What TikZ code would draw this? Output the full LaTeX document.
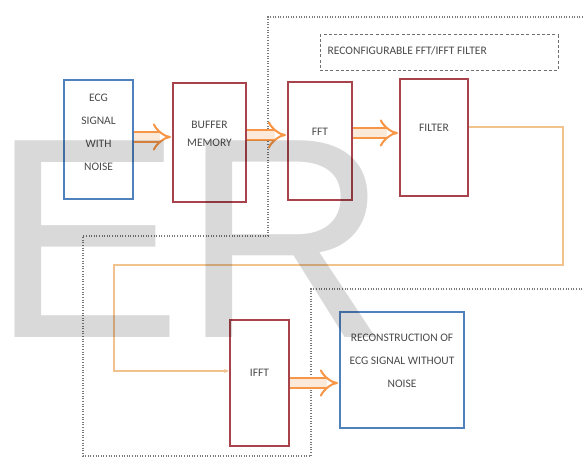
\documentclass[tikz,border=0pt]{standalone}
\usepackage{fontspec}
\setmainfont{Carlito}
\newfontfamily\wmfont{Liberation Sans}
\usetikzlibrary{arrows.meta}
\definecolor{boxblue}{HTML}{4F81BD}
\definecolor{boxred}{HTML}{A8434B}
\definecolor{arrorange}{HTML}{F79646}
\definecolor{arrinner}{HTML}{FBE9DA}
\definecolor{linetan}{HTML}{F2C28E}
\definecolor{txtgray}{HTML}{4A4A4A}
\definecolor{dotgray}{HTML}{7A7A7A}
\begin{document}
\begin{tikzpicture}[x=1pt,y=-1pt,
  bluebox/.style={draw=boxblue, line width=2pt, inner sep=0pt},
  redbox/.style={draw=boxred, line width=2pt, inner sep=0pt},
  lbl/.style={text=txtgray, font=\fontsize{11.5}{23}\selectfont, align=center, inner sep=0pt},
  dblarrow/.style={draw=arrorange, double=arrinner, double distance=7.5pt, line width=2pt, -{Implies}},
  thinline/.style={draw=linetan, line width=1.4pt},
  dotline/.style={draw=dotgray, line width=1.2pt, dash pattern=on 1pt off 1.6pt},
  dashbox/.style={draw=txtgray!80, line width=1pt, dash pattern=on 3pt off 2.2pt, inner sep=0pt}
]
\fill[white] (0,0) rectangle (583,460);
\useasboundingbox (0,0) rectangle (583,460);

% dotted region outline
\draw[dotline] (583,17) -- (268,17) -- (268,236) -- (83,236) -- (83,456) -- (311,456) -- (311,289) -- (583,289);

% dashed title box
\node[dashbox, minimum width=238pt, minimum height=35pt] (rc) at (439,52.5) {};
\node[lbl, anchor=west] (rct) at ([xshift=8pt,yshift=1.5pt]rc.west) {RECONFIGURABLE FFT/IFFT FILTER};

% boxes
\node[bluebox, minimum width=69pt, minimum height=119pt] (ecg) at (98.5,139.5) {};
\node[redbox, minimum width=73pt, minimum height=119pt] (buf) at (209.5,142.5) {};
\node[redbox, minimum width=64pt, minimum height=118pt] (fft) at (320,141) {};
\node[redbox, minimum width=68pt, minimum height=117pt] (fil) at (434,137.5) {};
\node[redbox, minimum width=59pt, minimum height=126pt] (iff) at (259.5,383) {};
\node[bluebox, minimum width=124pt, minimum height=116pt] (rec) at (402,370) {};

% labels
\node[lbl] (ecgt) at ([yshift=7.5pt]ecg.center) {ECG\\SIGNAL\\WITH\\NOISE};
\node[lbl, font=\fontsize{11.5}{18}\selectfont] (buft) at ([yshift=8.5pt]buf.center) {BUFFER\\MEMORY};
\node[lbl] (fftt) at ([yshift=9pt]fft.center) {FFT};
\node[lbl] (filt) at ([yshift=9.5pt]fil.center) {FILTER};
\node[lbl] (ifft) at ([yshift=10pt]iff.center) {IFFT};
\node[lbl] (rect) at ([yshift=9pt]rec.center) {RECONSTRUCTION OF\\ECG SIGNAL WITHOUT\\NOISE};

% double arrows
\draw[dblarrow] ([yshift=2.5pt]ecg.east) -- ([yshift=2.5pt,xshift=-1pt]ecg.east -| buf.west);
\draw[dblarrow] ([yshift=7.5pt]buf.east) -- ([yshift=7.5pt,xshift=-1pt]buf.east -| fft.west);
\draw[dblarrow] ([yshift=8pt]fft.east) -- ([yshift=8pt,xshift=-1pt]fft.east -| fil.west);
\draw[dblarrow] (iff.east) -- ([xshift=-1pt]iff.east -| rec.west);

% feedback line
\draw[thinline, -{Stealth[length=5pt,width=4pt]}] ([yshift=10.5pt]fil.east) -| (563,265) -| (114,371) -- ([yshift=12pt]iff.west);

% watermark
\node[anchor=base west, inner sep=0pt, text=black, text opacity=0.15,
  font=\wmfont\fontsize{286}{286}\selectfont] (wm) at (-8.6,337) {ER};
\end{tikzpicture}
\end{document}
